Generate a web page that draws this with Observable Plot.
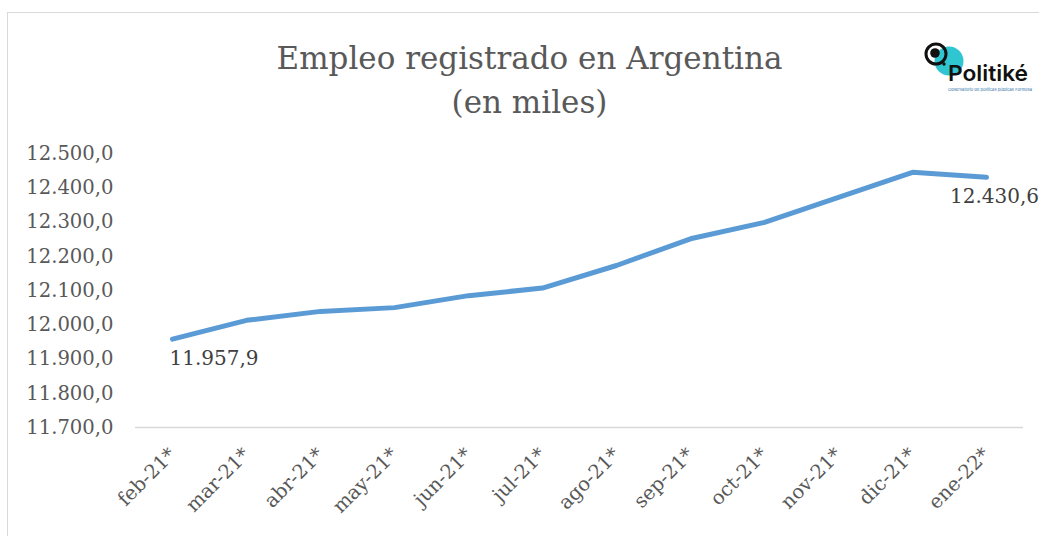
<!DOCTYPE html>
<html><head><meta charset="utf-8">
<script src="https://cdn.jsdelivr.net/npm/d3@7"></script>
<script src="https://cdn.jsdelivr.net/npm/@observablehq/plot@0.6"></script>
<style>
body{margin:0;background:#fff;width:1039px;height:536px;overflow:hidden;position:relative;font-family:"DejaVu Serif",serif;}
#frame{position:absolute;left:7px;top:12px;width:1100px;height:600px;border-left:1.5px solid #d9d9d9;border-top:1.5px solid #d9d9d9;}
#title{position:absolute;left:0;top:36px;width:1059px;text-align:center;font-family:"DejaVu Serif",serif;font-size:31px;line-height:44px;color:#595959;}
#chart{position:absolute;left:0;top:130px;}
#logo{position:absolute;left:910px;top:30px;}
</style></head>
<body>
<div id="frame"></div>
<div id="title">Empleo registrado en Argentina<br>(en miles)</div>
<svg id="logo" width="129" height="70" viewBox="0 0 129 70">
  <circle cx="39" cy="31" r="14.5" fill="#2fc6d2"/>
  <circle cx="26" cy="24" r="10" fill="none" stroke="#111" stroke-width="3"/>
  <circle cx="25" cy="23" r="4.8" fill="#111"/>
  <circle cx="34" cy="34" r="1.7" fill="#111"/>
  <text x="38" y="51" font-family="Inter, sans-serif" font-size="22" font-weight="600" fill="#111" textLength="80" lengthAdjust="spacingAndGlyphs">Politiké</text>
  <text x="38" y="61" font-family="Inter, sans-serif" font-size="4" fill="#2b6fa8" textLength="84" lengthAdjust="spacingAndGlyphs">Observatorio de políticas públicas Formosa</text>
</svg>
<div id="chart"></div>
<script>
const months = ["feb-21*","mar-21*","abr-21*","may-21*","jun-21*","jul-21*","ago-21*","sep-21*","oct-21*","nov-21*","dic-21*","ene-22*"];
const empleo = [11957.9, 12013, 12039, 12050, 12085, 12107, 12173, 12251, 12299, 12372, 12445, 12430.6];
const yTicks = [11700, 11800, 11900, 12000, 12100, 12200, 12300, 12400, 12500];

const data = months.map((m, i) => ({month: m, value: empleo[i]}));
const locale = d3.formatLocale({decimal: ",", thousands: ".", grouping: [3], currency: ["$", ""]});
const fmt = locale.format(",.1f");

const chart = Plot.plot({
  width: 1039,
  height: 406,
  marginLeft: 135,
  marginRight: 16,
  marginTop: 23,
  marginBottom: 109,
  style: {fontFamily: "DejaVu Serif, serif", background: "transparent"},
  x: {type: "band", domain: months, padding: 0, align: 0.5, label: null},
  y: {domain: [11700, 12500], label: null},
  marks: [
    Plot.ruleY([11700], {stroke: "#d9d9d9", strokeWidth: 1.5}),
    Plot.axisY({ticks: yTicks, tickFormat: fmt, tickSize: 0, tickPadding: 22, fontSize: 19.6, fill: "#595959", label: null}),
    Plot.axisX({tickSize: 0, tickRotate: -45, tickPadding: 24, fontSize: 19.5, fill: "#595959", label: null}),
    Plot.line(data, {x: "month", y: "value", stroke: "#5b9bd5", strokeWidth: 5, strokeLinecap: "round", strokeLinejoin: "round"}),
    Plot.text([data[0]], {x: "month", y: "value", text: d => fmt(d.value), textAnchor: "start", dx: -3, dy: 19, fontSize: 20, fill: "#404040"}),
    Plot.text([data[data.length - 1]], {x: "month", y: "value", text: d => fmt(d.value), textAnchor: "middle", dx: 8, dy: 19, fontSize: 20, fill: "#404040"})
  ]
});
document.getElementById("chart").appendChild(chart);
</script>
</body></html>
